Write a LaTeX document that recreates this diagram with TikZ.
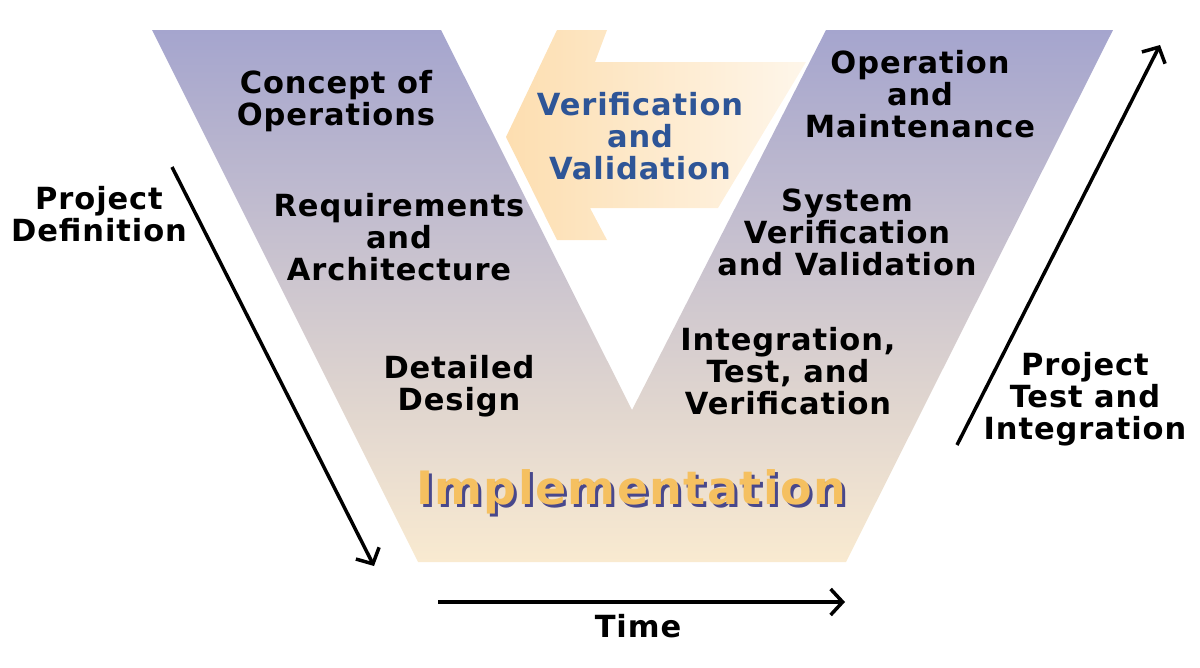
\documentclass[tikz,border=0pt]{standalone}
\usepackage{fontspec}
\setmainfont{DejaVu Sans}[LetterSpace=3]
\usetikzlibrary{arrows.meta}
\definecolor{vtop}{RGB}{165,165,206}
\definecolor{vbot}{RGB}{249,234,208}
\definecolor{arrleft}{RGB}{253,222,176}
\definecolor{arrright}{RGB}{254,246,234}
\definecolor{vvblue}{RGB}{46,85,151}
\definecolor{implorange}{RGB}{245,192,96}
\definecolor{implshadow}{RGB}{72,72,140}

\tikzset{
  lbl/.style={font=\fontsize{30.5}{32}\selectfont\bfseries, align=center, inner sep=0pt},
  biglbl/.style={font=\fontsize{46}{50}\selectfont\bfseries, inner sep=0pt},
  phase/.style={line width=3.5pt, -{Straight Barb[length=12pt,width=26pt,line width=3.5pt]}}
}
\newcommand{\shadowtext}[1]{\rlap{\kern3pt\raisebox{-3pt}{\color{implshadow}#1}}\color{implorange}#1}

\begin{document}
\begin{tikzpicture}[x=1pt,y=-1pt]
\useasboundingbox (0,0) rectangle (1200,667);
% verification arrow behind the V
\shade[left color=arrleft, right color=arrright]
  (506,137) -- (557,30) -- (607,30) -- (595,62) -- (806,62)
  -- (718,208) -- (590,208) -- (607,240) -- (557,240) -- cycle;
% the V
\shade[top color=vtop, bottom color=vbot]
  (152,30) -- (441,30) -- (632,410) -- (826,30) -- (1113,30)
  -- (846,562) -- (418,562) -- cycle;

% phases, left arm
\node[lbl] (conops) at (336,101) {Concept of\\Operations};
\node[lbl] (reqarch) at (399,237) {Requirements\\and\\Architecture};
\node[lbl] (design) at (459,386) {Detailed\\Design};
% phases, right arm
\node[lbl] (opmaint) at (920,94) {Operation\\and\\Maintenance};
\node[lbl] (sysvv) at (847,232) {System\\Verification\\and Validation};
\node[lbl] (inttest) at (788,371) {Integration,\\Test, and\\Verification};
% bottom
\node[biglbl] (impl) at (631,493) {\shadowtext{Implementation}};
% middle arrow text
\node[lbl, text=vvblue] (vandv) at (640,136) {Verification\\and\\Validation};

% side texts
\node[lbl] (projdef) at (99,214) {Project\\Definition};
\node[lbl] (projtest) at (1085,399) {Project\\Test and\\Integration};
\node[lbl] (time) at (638,626) {Time};

% arrows
\coordinate (defstart) at (172,167);
\coordinate (defend) at (374,566);
\coordinate (teststart) at (957,445);
\coordinate (testend) at (1160,45);
\coordinate (timestart) at (438,602);
\coordinate (timeend) at (845,602);
\draw[phase] (defstart) -- (defend);
\draw[phase] (teststart) -- (testend);
\draw[phase] (timestart) -- (timeend);
\end{tikzpicture}
\end{document}
